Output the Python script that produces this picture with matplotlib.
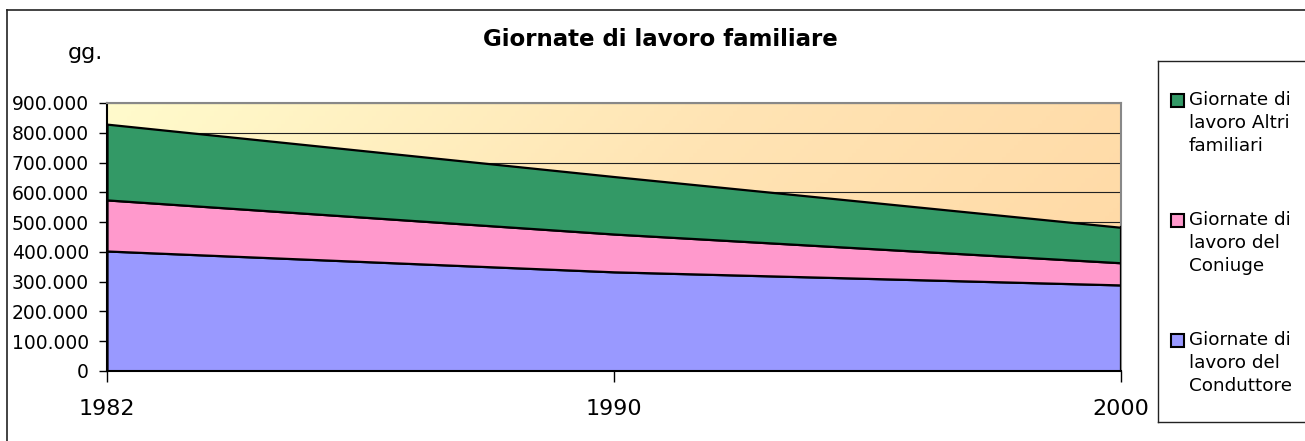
import matplotlib.pyplot as plt
import numpy as np
from matplotlib.lines import Line2D
from matplotlib.patches import Rectangle
from matplotlib.colors import LinearSegmentedColormap

anni = ['1982', '1990', '2000']
conduttore = [403000, 333000, 289000]
coniuge = [171500, 127000, 74500]
altri = [254500, 193000, 119000]

serie = ['Giornate di\nlavoro del\nConduttore',
         'Giornate di\nlavoro del\nConiuge',
         'Giornate di\nlavoro Altri\nfamiliari']
colori = ['#9999FF', '#FF99CC', '#339966']

W, H = 1305, 441
fig = plt.figure(figsize=(W / 100, H / 100), dpi=100)
fig.patch.set_facecolor('white')


def px(x, y):
    # coordinate in pixel (dall'alto a sinistra) -> frazione della figura
    return x / W, 1 - y / H


# cornice esterna
fig.add_artist(Line2D([7 / W, 1], [1 - 10 / H] * 2, color='#222222', lw=1.2))
fig.add_artist(Line2D([7 / W] * 2, [0, 1 - 10 / H], color='#222222', lw=1.2))

ax = fig.add_axes([107 / W, 1 - 371 / H, (1121 - 107) / W, (371 - 103) / H])

x = np.arange(len(anni))
ax.set_xlim(0, len(anni) - 1)
ax.set_ylim(0, 900000)

# sfondo sfumato in diagonale
gx, gy = np.meshgrid(np.linspace(0, 1, 256), np.linspace(0, 1, 64))
grad = 0.8 * gx + 0.2 * gy
cmap = LinearSegmentedColormap.from_list('bg', ['#FFFBCC', '#FFE4B4', '#FFD8A4'])
ax.imshow(grad, aspect='auto', cmap=cmap, extent=[0, 2, 0, 900000],
          origin='upper', zorder=0)

for yv in range(100000, 900001, 100000):
    ax.axhline(yv, color='#222222', lw=0.8, zorder=1)

ax.stackplot(x, conduttore, coniuge, altri, colors=colori,
             edgecolor='black', linewidth=1.6, zorder=2)
tot = np.array(conduttore) + np.array(coniuge) + np.array(altri)
ax.plot([x[-1], x[-1]], [0, tot[-1]], color='black', lw=1.6, zorder=3)

ax.set_yticks(range(0, 900001, 100000))
ax.set_yticklabels([f'{v:,}'.replace(',', '.') for v in range(0, 900001, 100000)],
                   fontsize=13.5)
ax.set_xticks(x)
ax.set_xticklabels(anni, fontsize=16)
ax.tick_params(axis='y', length=6, width=1, pad=7)
ax.tick_params(axis='x', length=8, width=1, pad=12)

for s in ['top', 'right']:
    ax.spines[s].set_color('#888888')
    ax.spines[s].set_linewidth(1.5)
for s in ['left', 'bottom']:
    ax.spines[s].set_color('black')
    ax.spines[s].set_linewidth(1.5)
ax.spines['top'].set_zorder(5)

fig.text(*px(660, 40), 'Giornate di lavoro familiare', fontsize=16.5,
         fontweight='bold', ha='center', va='center')
fig.text(*px(85, 53), 'gg.', fontsize=16, ha='center', va='center')

# legenda
fig.add_artist(Line2D([1158 / W, 1], [1 - 61 / H] * 2, color='#222222', lw=1))
fig.add_artist(Line2D([1158 / W] * 2, [1 - 61 / H, 1 - 422 / H], color='#222222', lw=1))
fig.add_artist(Line2D([1158 / W, 1], [1 - 422 / H] * 2, color='#222222', lw=1))

y_voce = [340, 220, 100]
for nome, col, yy in zip(serie, colori, y_voce):
    fig.add_artist(Rectangle(px(1171, yy + 7), 13 / W, 13 / H,
                             facecolor=col, edgecolor='black', lw=1.5))
    fig.text(*px(1189, yy - 9), nome, fontsize=13.2, ha='left', va='top',
             linespacing=1.36)

fig.savefig('out.png', dpi=100)
